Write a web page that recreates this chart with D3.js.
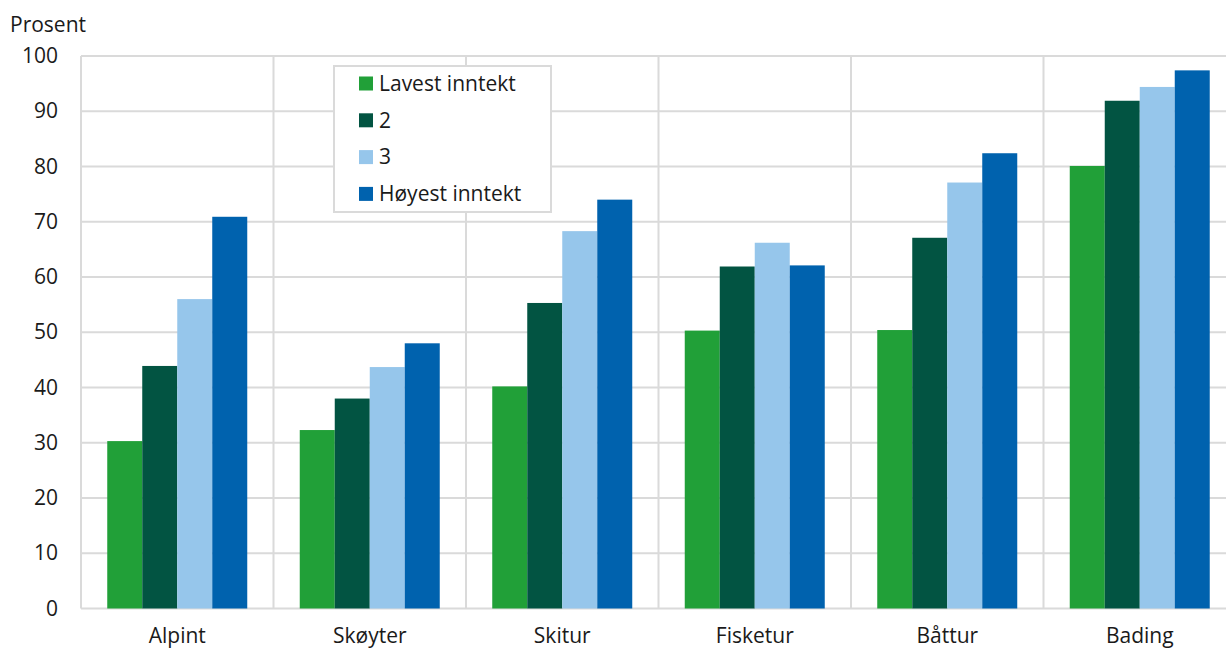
<!DOCTYPE html>
<html>
<head>
<meta charset="utf-8">
<script src="https://cdn.jsdelivr.net/npm/d3@7"></script>
<style>
  html, body { margin: 0; padding: 0; background: #fff; }
  svg { display: block; font-family: "Open Sans", sans-serif; }
</style>
</head>
<body>
<svg id="chart" width="1226" height="650"></svg>
<script>
// Andel som har deltatt i aktiviteten, etter inntektsgruppe
const categories = ["Alpint", "Skøyter", "Skitur", "Fisketur", "Båttur", "Bading"];
const seriesNames = ["Lavest inntekt", "2", "3", "Høyest inntekt"];
const lavest  = [30.3, 32.3, 40.2, 50.3, 50.4, 80.1];
const gruppe2 = [43.9, 38.0, 55.3, 61.9, 67.1, 91.9];
const gruppe3 = [56.0, 43.7, 68.3, 66.2, 77.1, 94.4];
const hoyest  = [70.9, 48.0, 74.0, 62.1, 82.4, 97.4];
const yTicks  = [0, 10, 20, 30, 40, 50, 60, 70, 80, 90, 100];
const colors  = ["#21a038", "#025442", "#96c6eb", "#0062ae"];

const seriesValues = [lavest, gruppe2, gruppe3, hoyest];
const rows = categories.map((c, i) => ({
  category: c,
  values: seriesNames.map((s, j) => ({ key: s, value: seriesValues[j][i] }))
}));

const svg = d3.select("#chart");
const plotLeft = 81, plotRight = 1236, plotTop = 56, plotBottom = 608.5;
const grid = "#dadada";
const fontSize = 21;

const x = d3.scaleBand().domain(categories).range([plotLeft, plotRight]).paddingInner(0).paddingOuter(0);
const groupPad = (x.bandwidth() - 140) / 2;
const xs = d3.scaleBand().domain(seriesNames).range([groupPad, x.bandwidth() - groupPad]).padding(0);
const y = d3.scaleLinear().domain([0, 100]).range([plotBottom, plotTop]);
const color = d3.scaleOrdinal().domain(seriesNames).range(colors);

// horizontal gridlines
svg.append("g").selectAll("line").data(yTicks).join("line")
  .attr("x1", plotLeft).attr("x2", plotRight)
  .attr("y1", d => y(d)).attr("y2", d => y(d))
  .attr("stroke", grid).attr("stroke-width", 2);

// vertical separators between categories
const edges = categories.map(c => x(c)).concat([plotRight]);
svg.append("g").selectAll("line").data(edges).join("line")
  .attr("x1", d => d).attr("x2", d => d)
  .attr("y1", plotTop).attr("y2", plotBottom)
  .attr("stroke", grid).attr("stroke-width", 2);

// y axis labels
const yAxis = d3.axisLeft(y).tickValues(yTicks).tickSize(0).tickPadding(0);
const gy = svg.append("g").attr("transform", `translate(${plotLeft - 23},0)`).call(yAxis);
gy.select(".domain").remove();
gy.selectAll("text").attr("font-size", fontSize).attr("fill", "#1a1a1a")
  .attr("font-family", "'Open Sans', sans-serif");

svg.append("text").attr("x", 10).attr("y", 32)
  .attr("font-size", fontSize).attr("fill", "#1a1a1a").text("Prosent");

// x axis labels
const xAxis = d3.axisBottom(x).tickSize(0).tickPadding(0);
const gx = svg.append("g").attr("transform", "translate(0,628)").call(xAxis);
gx.select(".domain").remove();
gx.selectAll("text").attr("font-size", fontSize).attr("fill", "#1a1a1a")
  .attr("font-family", "'Open Sans', sans-serif");

// bars
const groups = svg.append("g").selectAll("g").data(rows).join("g")
  .attr("transform", d => `translate(${x(d.category)},0)`);
groups.selectAll("rect").data(d => d.values).join("rect")
  .attr("x", d => xs(d.key))
  .attr("width", xs.bandwidth())
  .attr("y", d => y(d.value))
  .attr("height", d => y(0) - y(d.value))
  .attr("fill", d => color(d.key));

// legend
const lg = svg.append("g").attr("transform", "translate(334,66)");
lg.append("rect").attr("width", 217).attr("height", 146)
  .attr("fill", "#fff").attr("stroke", grid).attr("stroke-width", 2);
const items = lg.selectAll("g.item").data(seriesNames).join("g")
  .attr("class", "item")
  .attr("transform", (d, i) => `translate(25,${17.5 + i * 36.8})`);
items.append("rect").attr("x", 0).attr("y", -7).attr("width", 14).attr("height", 14)
  .attr("fill", d => color(d));
items.append("text").attr("x", 20).attr("y", 0).attr("dy", "0.35em")
  .attr("font-size", fontSize).attr("fill", "#1a1a1a").text(d => d);
</script>
</body>
</html>
